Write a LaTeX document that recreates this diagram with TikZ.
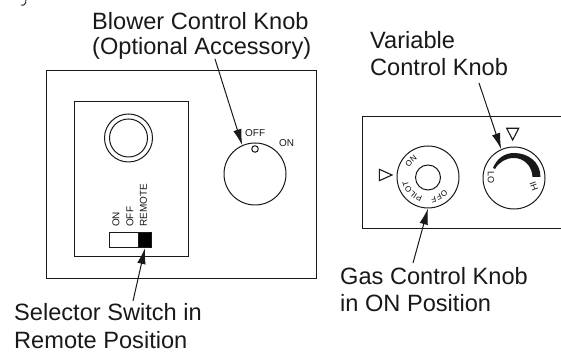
\documentclass[tikz,border=0pt]{standalone}
\usepackage{fontspec}
\setmainfont{Liberation Sans}
\usetikzlibrary{arrows.meta,decorations.text}
\tikzset{
  x=1pt,y=1pt,
  line/.style={draw=black!90,line width=1pt},
  panel/.style={line,rectangle,anchor=south west,inner sep=0pt,minimum width=#1},
  knob/.style={line,circle,inner sep=0pt,minimum size=#1},
  lbl/.style={align=left,anchor=north west,inner sep=0pt,font=\fontsize{23.6}{#1}\selectfont,text=black!90},
  lbl/.default=25,
  small/.style={inner sep=0pt,font=\fontsize{10}{10}\selectfont,text=black!90},
  callout/.style={draw=black!90,line width=1pt,-{Latex[length=16pt,width=8.5pt]}},
  marker/.style={line,line width=1.1pt,fill=white,line join=miter}
}
\begin{document}
\begin{tikzpicture}
\useasboundingbox (0,0) rectangle (561,352);
% stray descender at the top
\draw[line,line width=.9pt] (26,352) .. controls (26,348) and (24,346) .. (21,347);
% left panel
\node[panel=270pt,minimum height=208pt] (outer) at (45.5,73) {};
\node[panel=114pt,minimum height=155pt] (inner) at (74,95) {};
\node[knob=48pt] (ring) at (128.5,214) {};
\node[knob=38pt] (ringin) at (128.5,214) {};
\node[knob=62pt] (blower) at (255,178) {};
\node[knob=6.5pt] (dot) at (255,203) {};
\node[small,anchor=west] (off) at (245,219) {OFF};
\node[small,anchor=west] (on) at (279,209) {ON};
\node[panel=42pt,minimum height=15pt] (switch) at (109,104) {};
\node[panel=13pt,minimum height=15pt,fill=black] (slider) at (138,104) {};
\node[small,rotate=90,anchor=west] (son) at (116,125) {ON};
\node[small,rotate=90,anchor=west] (soff) at (130,125) {OFF};
\node[small,rotate=90,anchor=west] (srem) at (143.5,125) {REMOTE};
% right panel
\draw[line] (561,235.3) -- (362,235.3) -- (362,123) -- (561,123);
\node[knob=62pt] (gas) at (428,175) {};
\node[knob=25pt] (gasin) at (428,174.5) {};
\draw[marker] (379.3,182.7) -- (392,177) -- (379.3,171.3) -- cycle;
\node[knob=62pt] (var) at (514,174) {};
\draw[marker] (506.7,223.7) -- (518.7,223.7) -- (512.7,212) -- cycle;
\fill[black!90] (493,184) .. controls (497,194) and (505,199) .. (514,199) .. controls (528,199) and (540.5,190) .. (540.5,175) -- (532.5,175) .. controls (532,186) and (524,194) .. (514,194) .. controls (506,194) and (499,190) .. (495,183) -- cycle;
\node[small,rotate=-90,font=\fontsize{9}{9}\selectfont] (lo) at (491,174) {LO};
\node[small,rotate=110,font=\fontsize{9}{9}\selectfont] (hi) at (534,166) {HI};
\foreach \txt/\a/\b in {OFF/-30/-90,PILOT/-105/-170,ON/160/115}{
  \path[postaction={decorate},decoration={text along path,text align=center,text={|\fontsize{8}{8}\selectfont|\txt}}]
    (gas.center) ++(\a:20.5) arc[start angle=\a,end angle=\b,radius=20.5];
}
% labels
\node[lbl] (lblblower) at (92,340) {Blower Control Knob\\(Optional Accessory)};
\node[lbl=27.5] (lblselect) at (14,48.5) {Selector Switch in\\Remote Position};
\node[lbl=27.5] (lblvar) at (370,321) {Variable\\Control Knob};
\node[lbl=27.5] (lblgas) at (340,85) {Gas Control Knob\\in ON Position};
% connectors
\coordinate (a1) at (215,293);
\coordinate (a2) at (133,51);
\coordinate (a3) at (479,269);
\coordinate (a4) at (413,89);
\draw[callout] (a1) -- (blower.114);
\draw[callout] (a2) -- (slider.south);
\draw[callout] (a3) -- (var.114);
\draw[callout] (a4) -- (gas.south);
\end{tikzpicture}
\end{document}
